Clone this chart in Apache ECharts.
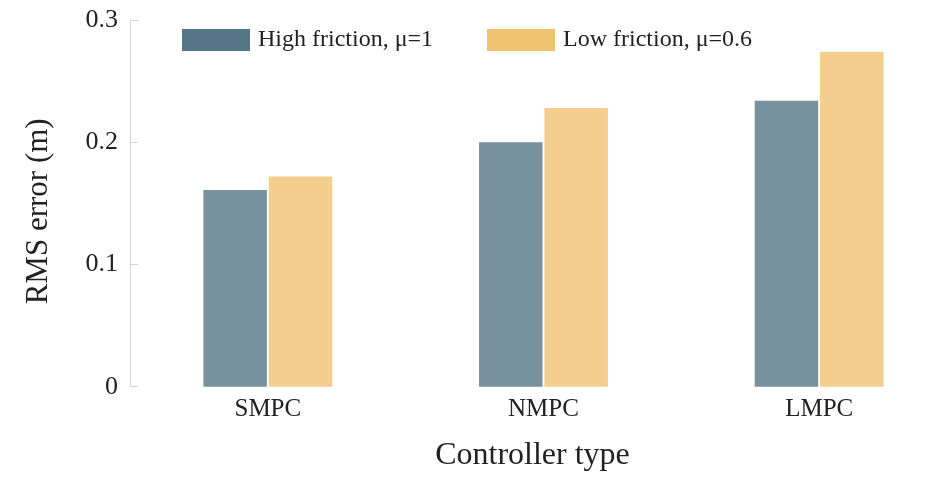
<!DOCTYPE html>
<html>
<head>
<meta charset="utf-8">
<script src="https://cdn.jsdelivr.net/npm/echarts@6/dist/echarts.min.js"></script>
<style>
  html, body { margin: 0; padding: 0; background: #fff; }
  #chart { width: 927px; height: 488px; }
</style>
</head>
<body>
<div id="chart"></div>
<script>
// data
var categories = ['SMPC', 'NMPC', 'LMPC'];
var highFriction = [0.161, 0.200, 0.234];
var lowFriction = [0.172, 0.228, 0.274];
var yTicks = [0, 0.1, 0.2, 0.3];

var seriesNames = ['High friction, μ=1', 'Low friction, μ=0.6'];
var colorHigh = '#557686';
var colorLow = '#f0c270';
var serif = '"Liberation Serif", "Times New Roman", serif';

var myChart = echarts.init(document.getElementById('chart'));
var option = {
	backgroundColor: '#fff',
	animation: false,
	textStyle: { fontFamily: serif },
	legend: {
		left: 182,
		top: 28,
		padding: 0,
		itemWidth: 68,
		itemHeight: 22,
		itemGap: 54,
		itemStyle: { borderWidth: 0 },
		textStyle: { fontFamily: serif, fontSize: 24, color: '#222', padding: [0, 0, 0, 3] },
		data: [
			{ name: seriesNames[0], icon: 'rect', itemStyle: { color: colorHigh, opacity: 1 } },
			{ name: seriesNames[1], icon: 'rect', itemStyle: { color: colorLow, opacity: 1 } }
		]
	},
	grid: {
		left: 130,
		top: 20,
		width: 827,
		height: 366.7,
		containLabel: false,
		outerBoundsMode: 'none'
	},
	xAxis: {
		type: 'category',
		data: categories,
		axisLine: { show: false },
		axisTick: { show: false },
		axisLabel: {
			margin: 10,
			fontFamily: serif,
			fontSize: 25,
			color: '#222'
		},
		name: 'Controller type',
		nameLocation: 'middle',
		nameGap: 53,
		nameTextStyle: {
			fontFamily: serif,
			fontSize: 32,
			color: '#222',
			padding: [0, 22, 0, 0]
		}
	},
	yAxis: {
		type: 'value',
		min: yTicks[0],
		max: yTicks[yTicks.length - 1],
		interval: 0.1,
		splitLine: { show: false },
		axisLine: { show: true, lineStyle: { color: '#d4d4d4', width: 1 } },
		axisTick: { show: true, inside: true, length: 8, lineStyle: { color: '#d4d4d4' } },
		axisLabel: {
			margin: 12,
			fontFamily: serif,
			fontSize: 26,
			color: '#222'
		},
		name: 'RMS error (m)',
		nameLocation: 'middle',
		nameGap: 76,
		nameTextStyle: {
			fontFamily: serif,
			fontSize: 31,
			color: '#222',
			padding: [0, 16, 0, 0]
		}
	},
	series: [{
		name: seriesNames[0],
		type: 'bar',
		barWidth: 63.5,
		barGap: '3%',
		itemStyle: { color: colorHigh, opacity: 0.8 },
		data: highFriction
	}, {
		name: seriesNames[1],
		type: 'bar',
		barWidth: 63.5,
		barGap: '3%',
		itemStyle: { color: colorLow, opacity: 0.8 },
		data: lowFriction
	}]
};
myChart.setOption(option);
</script>
</body>
</html>
